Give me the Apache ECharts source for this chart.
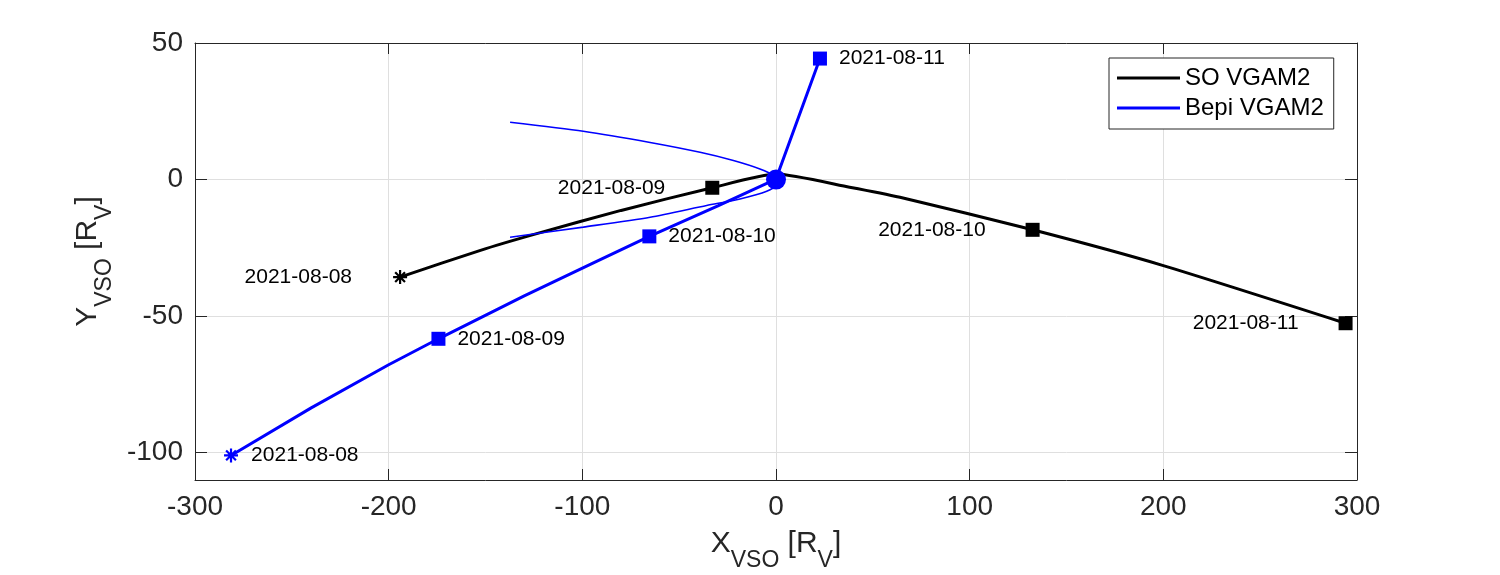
<!DOCTYPE html>
<html>
<head>
<meta charset="utf-8">
<script src="https://cdn.jsdelivr.net/npm/echarts@6/dist/echarts.min.js"></script>
<style>
    html, body { margin: 0; padding: 0; background: #fff; }
    #main { width: 1500px; height: 575px; }
</style>
</head>
<body>
<div id="main"></div>
<script type="text/javascript">
// Solar Orbiter track
var soX = [-194.1, -153, -124, -80, -32.9, 0, 38, 64, 132.5, 200, 294.1];
var soY = [-35.7, -26, -19.9, -11.3, -3.0, 2.0, -2.8, -6.5, -18.4, -31.5, -52.6];
// BepiColombo track
var bepiX = [-281.4, -240, -200, -174.3, -130, -94, -65.4, -30, 0, 22.7];
var bepiY = [-101, -83.6, -67.8, -58.3, -42.6, -30.4, -20.8, -9.6, 0.2, 44.3];
// thin flyby curve
var flybyX = [-137.3, -99.5, -65.0, -39.2, -22.0, -8.3, -1.4, 1.0, -4.8, -18.6, -35.8, -65.0, -99.5, -137.3];
var flybyY = [21.0, 17.7, 13.6, 10.0, 7.0, 3.9, 1.5, -1.5, -4.3, -7.1, -9.5, -13.8, -17.4, -21.1];
// daily markers
var dates = ['2021-08-08', '2021-08-09', '2021-08-10', '2021-08-11'];
var soMarkX = [-194.1, -32.9, 132.5, 294.1];
var soMarkY = [-35.7, -3.0, -18.4, -52.6];
var bepiMarkX = [-281.4, -174.3, -65.4, 22.7];
var bepiMarkY = [-101, -58.3, -20.8, 44.3];
var venusX = [0];
var venusY = [0];
// ticks
var xTicks = [-300, -200, -100, 0, 100, 200, 300];
var yTicks = [-100, -50, 0, 50];

var font = '"Liberation Sans", Arial, Helvetica, sans-serif';
var axisColor = '#262626';
var star = 'path://M5,0L5,10M0,5L10,5M1.5,1.5L8.5,8.5M1.5,8.5L8.5,1.5';

function zip(xs, ys) {
    return xs.map(function (x, i) { return [x, ys[i]]; });
}

function markData(xs, ys) {
    return xs.map(function (x, i) {
        var item = {
            value: [x, ys[i]],
            name: dates[i],
            symbol: i === 0 ? star : 'rect'
        };
        // asterisk marker is drawn as strokes
        if (i === 0) item.itemStyle = { borderWidth: 2.2 };
        return item;
    });
}

var nameRich = {
    a: { fontSize: 30, lineHeight: 56, color: axisColor, fontFamily: font },
    b: { fontSize: 23, lineHeight: 24, color: axisColor, fontFamily: font, verticalAlign: 'bottom' }
};

var myChart = echarts.init(document.getElementById('main'));

var option = {
    animation: false,
    backgroundColor: '#fff',
    grid: {
        left: 195,
        right: 143,
        top: 43,
        bottom: 95,
        outerBoundsMode: 'none'
    },
    legend: {
        data: ['SO VGAM2', 'Bepi VGAM2'],
        orient: 'vertical',
        left: 1109,
        top: 58,
        icon: 'rect',
        itemWidth: 63,
        itemHeight: 3,
        itemGap: 6,
        padding: [8, 10, 9, 8],
        borderColor: axisColor,
        borderWidth: 1,
        backgroundColor: '#fff',
        textStyle: {
            fontSize: 24,
            lineHeight: 24,
            color: '#000',
            fontFamily: font
        }
    },
    xAxis: [{
        type: 'value',
        min: -300,
        max: 300,
        interval: 100,
        name: '{a|X}{b|VSO}{a| [R}{b|V}{a|]}',
        nameLocation: 'middle',
        nameGap: 36,
        nameTextStyle: { rich: nameRich },
        axisLine: { show: true, onZero: false, lineStyle: { color: axisColor, width: 1 } },
        axisTick: { show: true, inside: true, length: 11, lineStyle: { color: axisColor } },
        axisLabel: {
            fontSize: 28,
            color: axisColor,
            fontFamily: font,
            margin: 13,
            customValues: xTicks
        },
        splitLine: { show: true, lineStyle: { color: '#dfdfdf', width: 1 } }
    }, {
        type: 'value',
        position: 'top',
        min: -300,
        max: 300,
        interval: 100,
        axisLine: { show: true, onZero: false, lineStyle: { color: axisColor, width: 1 } },
        axisTick: { show: true, inside: true, length: 11, lineStyle: { color: axisColor } },
        axisLabel: { show: false },
        splitLine: { show: false }
    }],
    yAxis: [{
        type: 'value',
        min: -110,
        max: 50,
        splitNumber: 3,
        name: '{a|Y}{b|VSO}{a| [R}{b|V}{a|]}',
        nameLocation: 'middle',
        nameRotate: 90,
        nameGap: 79,
        nameTextStyle: { rich: nameRich },
        axisLine: { show: true, onZero: false, lineStyle: { color: axisColor, width: 1 } },
        axisTick: { show: true, inside: true, length: 12, lineStyle: { color: axisColor }, customValues: yTicks },
        axisLabel: {
            fontSize: 28,
            color: axisColor,
            fontFamily: font,
            margin: 12,
            customValues: yTicks
        },
        splitLine: { show: true, lineStyle: { color: '#dfdfdf', width: 1 } }
    }, {
        type: 'value',
        position: 'right',
        min: -110,
        max: 50,
        splitNumber: 3,
        axisLine: { show: true, onZero: false, lineStyle: { color: axisColor, width: 1 } },
        axisTick: { show: true, inside: true, length: 12, lineStyle: { color: axisColor }, customValues: yTicks },
        axisLabel: { show: false },
        splitLine: { show: false }
    }],
    series: [{
        name: 'SO VGAM2',
        type: 'line',
        data: zip(soX, soY),
        showSymbol: false,
        smooth: 0.2,
        color: '#000',
        lineStyle: { color: '#000', width: 3 },
        z: 2
    }, {
        name: 'Bepi VGAM2',
        type: 'line',
        data: zip(bepiX, bepiY),
        showSymbol: false,
        color: '#0000ff',
        lineStyle: { color: '#0000ff', width: 3 },
        z: 3
    }, {
        name: 'flyby',
        type: 'line',
        data: zip(flybyX, flybyY),
        showSymbol: false,
        smooth: 0.25,
        color: '#0000ff',
        lineStyle: { color: '#0000ff', width: 1.6 },
        z: 3
    }, {
        name: 'SO marks',
        type: 'scatter',
        data: markData(soMarkX, soMarkY),
        symbolSize: 14,
        itemStyle: { color: '#000', borderColor: '#000', borderWidth: 0, opacity: 1 },
        label: {
            show: true,
            position: 'left',
            distance: 40,
            formatter: '{b}',
            fontSize: 21,
            color: '#000',
            fontFamily: font
        },
        z: 4
    }, {
        name: 'Bepi marks',
        type: 'scatter',
        data: markData(bepiMarkX, bepiMarkY),
        symbolSize: 14,
        itemStyle: { color: '#0000ff', borderColor: '#0000ff', borderWidth: 0, opacity: 1 },
        label: {
            show: true,
            position: 'right',
            distance: 12,
            formatter: '{b}',
            fontSize: 21,
            color: '#000',
            fontFamily: font
        },
        z: 4
    }, {
        name: 'Venus',
        type: 'scatter',
        data: zip(venusX, venusY),
        symbol: 'circle',
        symbolSize: 20,
        itemStyle: { color: '#0000ff', opacity: 1 },
        z: 5
    }]
};

myChart.setOption(option);
</script>
</body>
</html>
